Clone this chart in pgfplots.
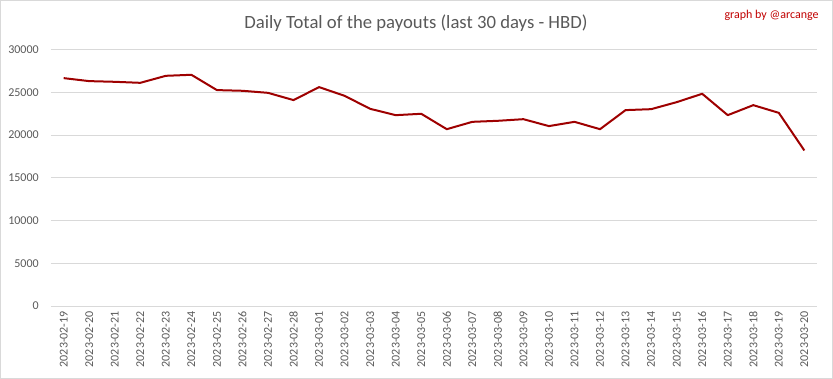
\documentclass[border=0pt]{standalone}
\usepackage{pgfplots}
\pgfplotsset{compat=1.18}
\usepackage{fontspec}
\setmainfont{Carlito}
\definecolor{txtgray}{HTML}{595959}
\definecolor{gridgray}{HTML}{D9D9D9}
\definecolor{linered}{HTML}{9E0000}
\definecolor{credred}{HTML}{C00000}
\begin{document}
\begin{tikzpicture}[x=1bp,y=1bp]
\draw[gridgray, line width=0.75bp] (0.5,0.5) rectangle (832.5,378.5);
\node[txtgray, font=\fontsize{18.7bp}{22bp}\selectfont] at (416,22.5) [yshift=0pt] {};
\begin{axis}[
  at={(51bp,73bp)}, anchor=south west,
  scale only axis, width=766bp, height=256.5bp,
  xmin=-0.5, xmax=29.5, ymin=0, ymax=30000,
  ytick={0,5000,10000,15000,20000,25000,30000},
  xtick={0,...,29},
  xticklabels={2023-02-19,2023-02-20,2023-02-21,2023-02-22,2023-02-23,2023-02-24,2023-02-25,2023-02-26,2023-02-27,2023-02-28,2023-03-01,2023-03-02,2023-03-03,2023-03-04,2023-03-05,2023-03-06,2023-03-07,2023-03-08,2023-03-09,2023-03-10,2023-03-11,2023-03-12,2023-03-13,2023-03-14,2023-03-15,2023-03-16,2023-03-17,2023-03-18,2023-03-19,2023-03-20},
  /pgf/number format/assume math mode=true,
  /pgf/number format/1000 sep={},
  scaled y ticks=false,
  ymajorgrids, grid style={gridgray, line width=0.75bp},
  axis line style={draw=none},
  major tick length=0pt,
  tick label style={txtgray, font=\fontsize{12bp}{14bp}\selectfont},
  yticklabel style={inner sep=0pt, anchor=east, xshift=-12bp},
  xticklabel style={inner sep=0pt, yshift=-5bp, rotate=90, anchor=east},
  clip=false,
]
\addplot[linered, line width=2bp, line join=round] table[x=i, y=v] {
i v
0 26640
1 26290
2 26210
3 26090
4 26910
5 27030
6 25240
7 25160
8 24920
9 24070
10 25590
11 24570
12 23050
13 22310
14 22470
15 20670
16 21530
17 21650
18 21840
19 21030
20 21530
21 20670
22 22900
23 23010
24 23830
25 24810
26 22310
27 23480
28 22580
29 18180
};
\end{axis}
\node[txtgray, font=\fontsize{18.7bp}{22bp}\selectfont] at (416,356) {Daily Total of the payouts (last 30 days - HBD)};
\node[credred, font=\fontsize{12bp}{14bp}\selectfont, anchor=east] at (822,364) {graph by @arcange};
\end{tikzpicture}
\end{document}
